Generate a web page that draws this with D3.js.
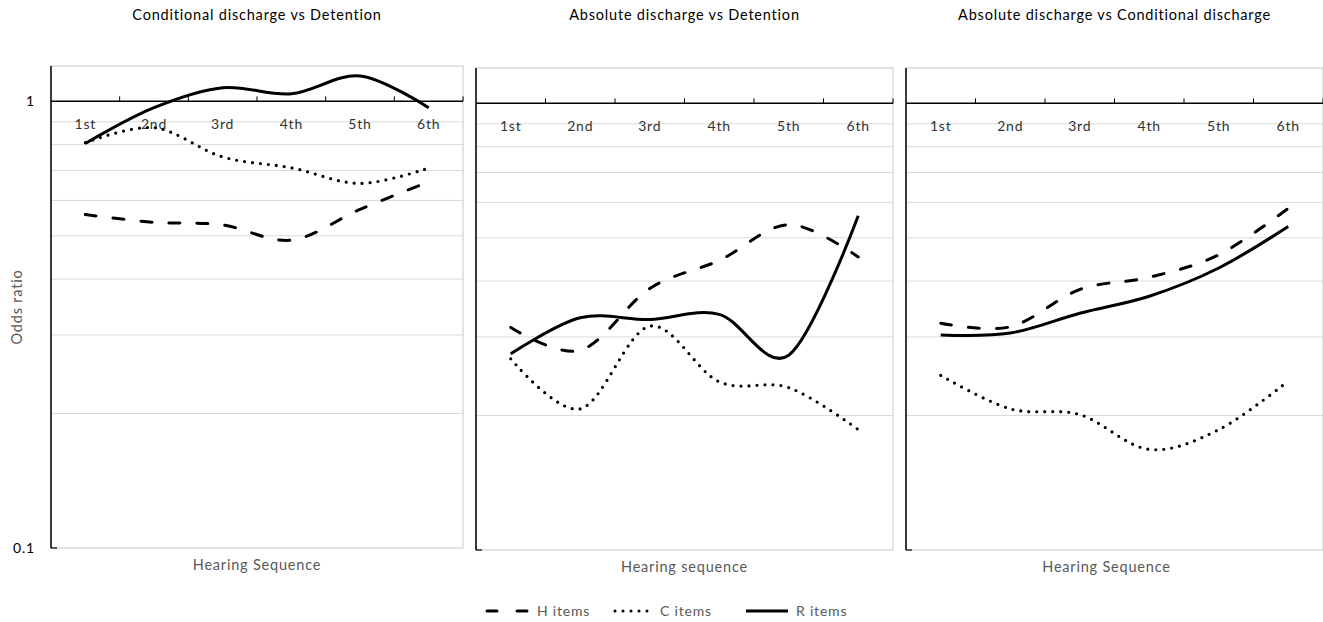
<!DOCTYPE html>
<html>
<head>
<meta charset="utf-8">
<script src="https://cdn.jsdelivr.net/npm/d3@7"></script>
<style>
  body { margin: 0; background: #fff; }
  svg { display: block; font-family: Lato, 'Open Sans', sans-serif; letter-spacing: 0.8px; }
</style>
</head>
<body>
<div id="chart"></div>
<script>
const categories = ['1st', '2nd', '3rd', '4th', '5th', '6th']
const panelTitles = ['Conditional discharge vs Detention', 'Absolute discharge vs Detention', 'Absolute discharge vs Conditional discharge']
const xTitles = ['Hearing Sequence', 'Hearing sequence', 'Hearing Sequence']
const yTicks = [0.1, 1]
const gridValues = [0.2, 0.3, 0.4, 0.5, 0.6, 0.7, 0.8, 0.9]

// odds ratios
const hItems1 = [0.558, 0.536, 0.529, 0.489, 0.573, 0.660]
const cItems1 = [0.808, 0.873, 0.751, 0.710, 0.655, 0.709]
const rItems1 = [0.805, 0.968, 1.073, 1.040, 1.140, 0.968]

const hItems2 = [0.315, 0.280, 0.385, 0.445, 0.535, 0.453]
const cItems2 = [0.268, 0.207, 0.317, 0.238, 0.231, 0.186]
const rItems2 = [0.275, 0.331, 0.328, 0.337, 0.273, 0.560]

const hItems3 = [0.322, 0.316, 0.383, 0.408, 0.458, 0.582]
const cItems3 = [0.246, 0.207, 0.201, 0.168, 0.186, 0.239]
const rItems3 = [0.303, 0.306, 0.339, 0.370, 0.428, 0.530]

const seriesNames = ['H items', 'C items', 'R items']
const panelData = [
  [hItems1, cItems1, rItems1],
  [hItems2, cItems2, rItems2],
  [hItems3, cItems3, rItems3]
]

const width = 1323
const height = 622

const styles = [
  { dash: '11,17', cap: 'round' },
  { dash: '0,8', cap: 'round' },
  { dash: null, cap: 'butt' }
]

const panels = [
  { left: 51, right: 463, top: 66, bottom: 548 },
  { left: 476, right: 893, top: 68, bottom: 550 },
  { left: 906, right: 1323, top: 68, bottom: 550 }
]

const svg = d3.select('#chart')
  .append('svg')
  .attr('width', width)
  .attr('height', height)

panels.forEach((p, i) => {
  const x = d3.scaleBand()
    .domain(categories)
    .range([p.left, p.right])

  const y = d3.scaleLog()
    .domain([0.1, 1.2])
    .range([p.bottom, p.top])

  const g = svg.append('g')

  // gridlines
  g.selectAll('.grid')
    .data(gridValues)
    .enter()
    .append('line')
    .attr('x1', p.left)
    .attr('x2', p.right)
    .attr('y1', d => y(d))
    .attr('y2', d => y(d))
    .attr('stroke', '#d9d9d9')
    .attr('stroke-width', 1)

  // plot area border
  g.append('rect')
    .attr('x', p.left)
    .attr('y', p.top)
    .attr('width', p.right - p.left)
    .attr('height', p.bottom - p.top)
    .attr('fill', 'none')
    .attr('stroke', '#c8c8c8')
    .attr('stroke-width', 1)

  // left axis
  g.append('line')
    .attr('x1', p.left).attr('x2', p.left)
    .attr('y1', p.top).attr('y2', p.bottom)
    .attr('stroke', '#000')
    .attr('stroke-width', 1.5)

  g.append('line')
    .attr('x1', p.left).attr('x2', p.left + 6)
    .attr('y1', y(0.1)).attr('y2', y(0.1))
    .attr('stroke', '#000')
    .attr('stroke-width', 1.2)

  // x axis crossing at 1
  const axisY = y(1)
  g.append('line')
    .attr('x1', p.left).attr('x2', p.right)
    .attr('y1', axisY).attr('y2', axisY)
    .attr('stroke', '#000')
    .attr('stroke-width', 1.5)

  const bounds = categories.map(c => x(c)).concat([p.right])
  g.selectAll('.tick')
    .data(bounds.slice(1))
    .enter()
    .append('line')
    .attr('x1', d => d).attr('x2', d => d)
    .attr('y1', axisY).attr('y2', axisY - 5)
    .attr('stroke', '#000')
    .attr('stroke-width', 1)

  g.selectAll('.cat')
    .data(categories)
    .enter()
    .append('text')
    .attr('x', d => x(d) + x.bandwidth() / 2)
    .attr('y', axisY + 28)
    .attr('text-anchor', 'middle')
    .attr('font-size', 14)
    .attr('fill', '#333')
    .text(d => d)

  // series
  const line = d3.line()
    .x((d, j) => x(categories[j]) + x.bandwidth() / 2)
    .y(d => y(d))
    .curve(d3.curveCardinal.tension(0))

  panelData[i].forEach((vals, k) => {
    g.append('path')
      .attr('d', line(vals))
      .attr('fill', 'none')
      .attr('stroke', '#000')
      .attr('stroke-width', k === 1 ? 3.2 : 3)
      .attr('stroke-linecap', styles[k].cap)
      .attr('stroke-dasharray', styles[k].dash)
  })

  // titles
  svg.append('text')
    .attr('x', (p.left + p.right) / 2)
    .attr('y', 20)
    .attr('text-anchor', 'middle')
    .attr('font-size', 14.5)
    .attr('fill', '#000')
    .text(panelTitles[i])

  svg.append('text')
    .attr('x', (p.left + p.right) / 2 - (i === 2 ? 8 : 0))
    .attr('y', p.bottom + 22)
    .attr('text-anchor', 'middle')
    .attr('font-size', 14.5)
    .attr('fill', '#595959')
    .text(xTitles[i])

  if (i === 0) {
    svg.selectAll('.ytick')
      .data(yTicks)
      .enter()
      .append('text')
      .attr('x', 35)
      .attr('y', d => y(d) + 5)
      .attr('text-anchor', 'end')
      .attr('font-size', 14)
      .attr('fill', '#000')
      .text(d => d)

    svg.append('text')
      .attr('transform', `translate(22,${(p.top + p.bottom) / 2}) rotate(-90)`)
      .attr('text-anchor', 'middle')
      .attr('font-size', 14.5)
      .attr('fill', '#595959')
      .text('Odds ratio')
  }
})

// legend
const legendX = [484, 612, 743]
const legend = svg.append('g')
seriesNames.forEach((name, k) => {
  legend.append('line')
    .attr('x1', legendX[k] + 3)
    .attr('x2', legendX[k] + (k === 1 ? 40 : 45))
    .attr('y1', 611).attr('y2', 611)
    .attr('stroke', '#000')
    .attr('stroke-width', 3)
    .attr('stroke-linecap', styles[k].cap)
    .attr('stroke-dasharray', k === 0 ? '10,20' : styles[k].dash)
  legend.append('text')
    .attr('x', legendX[k] + (k === 1 ? 48 : 53))
    .attr('y', 616)
    .attr('font-size', 14)
    .attr('fill', '#595959')
    .text(name)
})
</script>
</body>
</html>
